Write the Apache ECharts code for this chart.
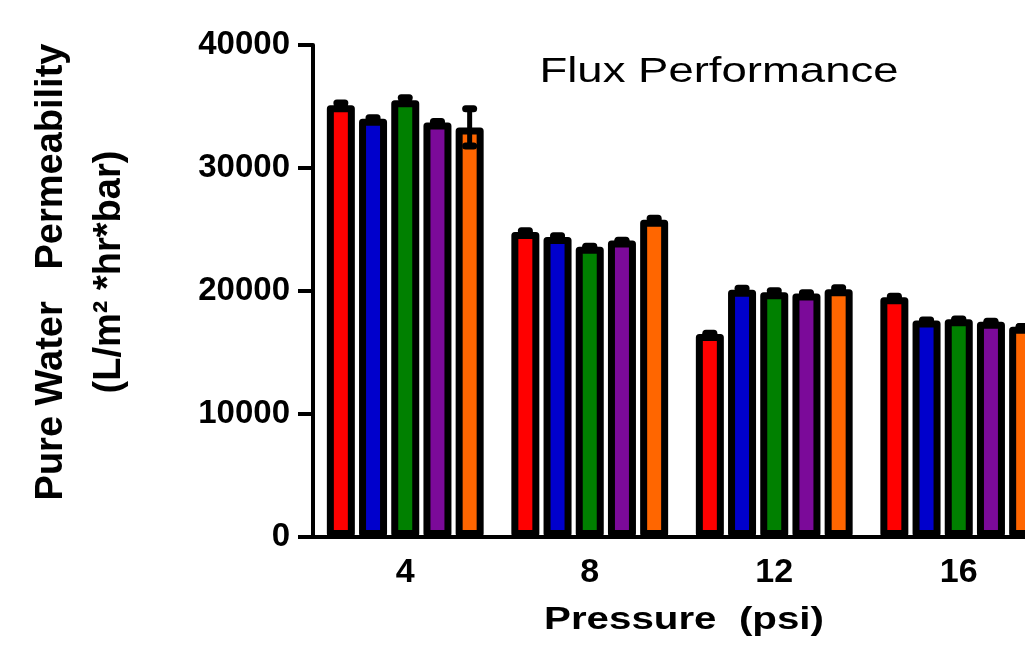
<!DOCTYPE html>
<html>
<head>
<meta charset="utf-8">
<script src="https://cdn.jsdelivr.net/npm/echarts@6/dist/echarts.min.js"></script>
<style>
  html, body { margin: 0; padding: 0; background: #fff; overflow: hidden; }
  /* plot runs past the right edge of the window, like the cropped original */
  #chart { width: 1051px; height: 651px; }
</style>
</head>
<body>
<div id="chart"></div>
<script>
// pressure categories (psi)
var pressures = ['4', '8', '12', '16'];
var yTicks = [0, 10000, 20000, 30000, 40000];

// pure water permeability per sample, L/m2*hr*bar
var sampleNames = ['Sample 1', 'Sample 2', 'Sample 3', 'Sample 4', 'Sample 5'];
var redVals    = [35100, 24800, 16500, 19500];
var blueVals   = [34000, 24400, 20100, 17600];
var greenVals  = [35500, 23600, 19900, 17700];
var purpleVals = [33700, 24100, 19800, 17500];
var orangeVals = [33300, 25800, 20150, 17100];

// error bar half heights
var redErr    = [460, 190, 210, 220];
var blueErr   = [190, 200, 400, 330];
var greenErr  = [490, 330, 400, 270];
var purpleErr = [200, 250, 350, 330];
var orangeErr = [1800, 400, 400, 280];

var colors = ['#ff0000', '#0000cc', '#008000', '#7b0a99', '#ff6600'];
var allVals = [redVals, blueVals, greenVals, purpleVals, orangeVals];
var allErr = [redErr, blueErr, greenErr, purpleErr, orangeErr];

var BAR_W = 28;
var BAR_GAP = 0.15;
var BORDER = 7;
var CAP = 7;
var FONT = 'Liberation Sans, Arial, sans-serif';

var chart = echarts.init(document.getElementById('chart'));

var barSeries = allVals.map(function (vals, i) {
  return {
    name: sampleNames[i],
    type: 'bar',
    data: vals,
    barWidth: BAR_W,
    barGap: (BAR_GAP * 100) + '%',
    itemStyle: {
      color: colors[i],
      borderColor: '#000',
      borderWidth: BORDER,
      borderJoin: 'round'
    },
    z: 2
  };
});

// error bar data: [category index, value, error, series index]
var errData = [];
allVals.forEach(function (vals, s) {
  vals.forEach(function (v, c) {
    errData.push([c, v, allErr[s][c], s]);
  });
});

var errSeries = {
  type: 'custom',
  data: errData,
  encode: { x: 0, y: 1 },
  z: 5,
  renderItem: function (params, api) {
    var cat = api.value(0), val = api.value(1), err = api.value(2), idx = api.value(3);
    var n = sampleNames.length;
    var off;
    if (api.barLayout) {
      off = api.barLayout({ barWidth: BAR_W, barGap: (BAR_GAP * 100) + '%', count: n })[idx].offsetCenter;
    } else {
      off = (idx - (n - 1) / 2) * BAR_W * (1 + BAR_GAP);
    }
    var x = api.coord([cat, val])[0] + off;
    // caps sit inside the whisker ends, the same way bar borders sit inside the bar
    var hi = api.coord([cat, val + err])[1] + CAP / 2;
    var lo = api.coord([cat, val - err])[1] - CAP / 2;
    var st = { stroke: '#000', lineWidth: CAP, lineCap: 'round' };
    return {
      type: 'group',
      children: [
        { type: 'line', shape: { x1: x, y1: hi, x2: x, y2: lo }, style: { stroke: '#000', lineWidth: 5 } },
        { type: 'line', shape: { x1: x - 4, y1: hi, x2: x + 4, y2: hi }, style: st },
        { type: 'line', shape: { x1: x - 4, y1: lo, x2: x + 4, y2: lo }, style: st }
      ]
    };
  }
};

chart.setOption({
  animation: false,
  backgroundColor: '#fff',
  grid: { left: 313, top: 45, width: 738, height: 492, containLabel: false },
  xAxis: {
    type: 'category',
    data: pressures,
    boundaryGap: true,
    axisLine: { lineStyle: { color: '#000', width: 4 } },
    axisTick: { alignWithLabel: true, length: 11, lineStyle: { color: '#000', width: 4 } },
    axisLabel: { color: '#000', fontFamily: FONT, fontWeight: 'bold', fontSize: 34, margin: 19 },
    splitLine: { show: false }
  },
  yAxis: {
    type: 'value',
    min: yTicks[0],
    max: yTicks[yTicks.length - 1],
    interval: yTicks[1] - yTicks[0],
    axisLine: { show: true, lineStyle: { color: '#000', width: 4 } },
    axisTick: { show: true, length: 15, lineStyle: { color: '#000', width: 4 } },
    axisLabel: {
      color: '#000', fontFamily: FONT, fontWeight: 'bold', fontSize: 33, margin: 23,
      formatter: function (v) { return String(v); }
    },
    splitLine: { show: false }
  },
  graphic: [
    {
      type: 'text',
      x: 719, y: 72,
      scaleX: 1.3,
      style: {
        text: 'Flux Performance',
        font: '35px ' + FONT,
        fill: '#000',
        textAlign: 'center',
        textVerticalAlign: 'middle'
      }
    },
    {
      type: 'text',
      x: 684, y: 620,
      scaleX: 1.3,
      style: {
        text: 'Pressure  (psi)',
        font: 'bold 31px ' + FONT,
        fill: '#000',
        textAlign: 'center',
        textVerticalAlign: 'middle'
      }
    },
    {
      type: 'text',
      x: 81, y: 272,
      rotation: Math.PI / 2,
      style: {
        text: 'Pure Water   Permeability\n(L/m\u00b2 *hr*bar)',
        font: 'bold 38px ' + FONT,
        lineHeight: 58,
        fill: '#000',
        textAlign: 'center',
        textVerticalAlign: 'middle'
      }
    }
  ],
  series: barSeries.concat([errSeries])
});
</script>
</body>
</html>
